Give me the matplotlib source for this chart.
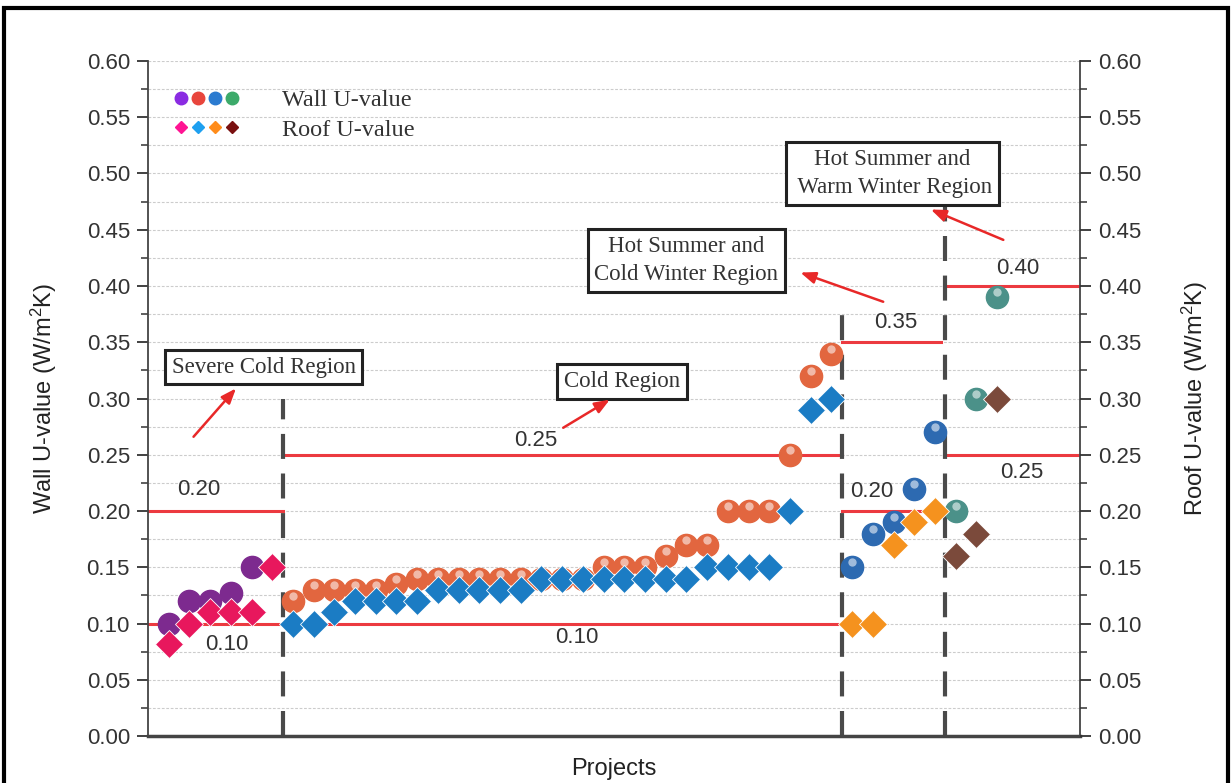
import matplotlib
matplotlib.use("Agg")
import matplotlib.pyplot as plt
from matplotlib.lines import Line2D
from matplotlib.legend_handler import HandlerTuple
from matplotlib.patches import Rectangle
from matplotlib.transforms import ScaledTranslation
from matplotlib.ticker import MultipleLocator
import numpy as np

plt.rcParams['font.family'] = ['Liberation Sans', 'DejaVu Sans']
plt.rcParams['mathtext.fontset'] = 'custom'
plt.rcParams['mathtext.rm'] = 'Liberation Sans'
plt.rcParams['mathtext.it'] = 'Liberation Sans:italic'

# severe cold region
sc_wall_x = [0, 1, 2, 3, 4]
sc_wall = [0.10, 0.12, 0.12, 0.127, 0.15]
sc_roof_x = [0, 1, 2, 3, 4, 5]
sc_roof = [0.082, 0.10, 0.11, 0.11, 0.11, 0.15]

# cold region
c_x = list(range(6, 33))
c_wall = [0.12, 0.13, 0.13, 0.13, 0.13, 0.135, 0.14, 0.14, 0.14, 0.14,
          0.14, 0.14, 0.14, 0.14, 0.14, 0.15, 0.15, 0.15, 0.16, 0.17,
          0.17, 0.20, 0.20, 0.20, 0.25, 0.32, 0.34]
c_roof = [0.10, 0.10, 0.11, 0.12, 0.12, 0.12, 0.12, 0.13, 0.13, 0.13,
          0.13, 0.13, 0.14, 0.14, 0.14, 0.14, 0.14, 0.14, 0.14, 0.14,
          0.15, 0.15, 0.15, 0.15, 0.20, 0.29, 0.30]

# hot summer and cold winter region
hscw_x = [33, 34, 35, 36, 37]
hscw_wall = [0.15, 0.18, 0.19, 0.22, 0.27]
hscw_roof = [0.10, 0.10, 0.17, 0.19, 0.20]

# hot summer and warm winter region
hsww_x = [38, 39, 40]
hsww_wall = [0.20, 0.30, 0.39]
hsww_roof = [0.16, 0.18, 0.30]

# code limits: (value, x start, x end, label x, label y)
limits = [
    (0.20, -1, 5.5, 1.45, 0.219),
    (0.10, -1, 32.5, 2.8, 0.081),
    (0.25, 5.5, 32.5, 17.7, 0.263),
    (0.35, 32.5, 37.3, 35.1, 0.368),
    (0.20, 32.5, 37.5, 33.95, 0.217),
    (0.40, 37.65, 44, 41.0, 0.416),
    (0.25, 37.5, 44, 41.2, 0.234),
]
extra_labels = [("0.10", 19.7, 0.088)]

dividers = [(5.5, 0.30), (32.5, 0.385), (37.5, 0.47)]

regions = [
    ("Severe Cold Region", 4.58, 0.328, (1.2, 0.266), (3.25, 0.309)),
    ("Cold Region", 21.9, 0.315, (19.05, 0.274), (21.3, 0.299)),
    ("Hot Summer and\nCold Winter Region", 25.0, 0.423, (34.5, 0.386), (30.5, 0.412)),
    ("Hot Summer and\n Warm Winter Region", 34.95, 0.50, (40.3, 0.441), (36.8, 0.468)),
]

fig = plt.figure(figsize=(12.31, 7.83), dpi=100)
ax = fig.add_axes([0.1202, 0.0600, 0.7571, 0.8621])

ax.set_xlim(-1, 44)
ax.set_ylim(0, 0.6)
ax.yaxis.set_major_locator(MultipleLocator(0.05))
ax.yaxis.set_minor_locator(MultipleLocator(0.025))
ax.grid(True, which='both', axis='y', color='#cccccc', ls=(0, (2.5, 1.5)), lw=0.8)
ax.set_axisbelow(True)

ax.set_xticks([5.5, 32.5, 37.5])
ax.set_xticklabels([])
ax.tick_params(axis='x', direction='in', length=10, width=1.5, color='#444')
ax.tick_params(axis='y', which='major', length=8, width=1.3, labelsize=16,
               colors='#333', pad=5)
ax.tick_params(axis='y', which='minor', length=5, width=1.1, color='#333')
ax.yaxis.set_major_formatter(plt.FuncFormatter(lambda v, p: f"{v:.2f}"))

for s in ['left', 'right']:
    ax.spines[s].set_color('#444')
    ax.spines[s].set_linewidth(1.3)
ax.spines['bottom'].set_color('#444')
ax.spines['bottom'].set_linewidth(2.5)
ax.spines['top'].set_visible(False)

ax2 = ax.twinx()
ax2.set_ylim(0, 0.6)
ax2.yaxis.set_major_locator(MultipleLocator(0.05))
ax2.yaxis.set_minor_locator(MultipleLocator(0.025))
ax2.yaxis.set_major_formatter(plt.FuncFormatter(lambda v, p: f"{v:.2f}"))
ax2.tick_params(axis='y', which='major', length=8, width=1.3, labelsize=16,
                colors='#333', pad=5)
ax2.tick_params(axis='y', which='minor', length=5, width=1.1, color='#333')
for s in ax2.spines.values():
    s.set_visible(False)

ax.set_ylabel("Wall U-value (W/m$^2$K)", fontsize=17, color='#222', labelpad=20)
ax2.set_ylabel("Roof U-value (W/m$^2$K)", fontsize=17, color='#222', labelpad=28)
ax.set_xlabel("Projects", fontsize=17, color='#222', labelpad=12)

# limit lines
for v, x0, x1, lx, ly in limits:
    ax.plot([x0, x1], [v, v], color='#ec3a40', lw=2.2, zorder=2)
    ax.text(lx, ly, f"{v:.2f}", fontsize=16, color='#333', ha='center', va='center')
for t, lx, ly in extra_labels:
    ax.text(lx, ly, t, fontsize=16, color='#333', ha='center', va='center')

# region dividers
for xd, top in dividers:
    ax.plot([xd, xd], [0, top], color='#4a4a4a', lw=3, ls=(0, (6, 3.5)), zorder=2)

# points
ms_c = 16
ms_d = 14
hl = ax.transData + ScaledTranslation(0, 3.5 / 72, fig.dpi_scale_trans)


def balls(x, y, color, shine=True):
    ax.plot(x, y, ls='', marker='o', ms=ms_c, color=color, mec=color, zorder=4)
    if shine:
        ax.plot(x, y, ls='', marker='o', ms=6, color='white', alpha=0.55,
                mew=0, transform=hl, zorder=4.5)


def diamonds(x, y, color):
    ax.plot(x, y, ls='', marker='D', ms=ms_d, color=color, mec='white',
            mew=0.6, zorder=5)


balls(sc_wall_x, sc_wall, '#7d2a8f', shine=False)
diamonds(sc_roof_x, sc_roof, '#e8175d')
balls(c_x, c_wall, '#e2663f')
diamonds(c_x, c_roof, '#1b7cc4')
balls(hscw_x, hscw_wall, '#2d6ab1')
diamonds(hscw_x, hscw_roof, '#f5921e')
balls(hsww_x, hsww_wall, '#4b9189')
diamonds(hsww_x, hsww_roof, '#7b4a3b')

# region boxes with arrows
for txt, bx, by, tail, head in regions:
    ax.text(bx, by, txt, family=['Liberation Serif'], fontsize=16.5, color='#333',
            ha='center', va='center', linespacing=1.45, zorder=6,
            bbox=dict(boxstyle='square,pad=0.3', fc='white', ec='#222', lw=2.2))
    ax.annotate('', xy=head, xytext=tail, zorder=6,
                arrowprops=dict(arrowstyle='-|>,head_length=0.9,head_width=0.35',
                                color='#e82828', lw=1.8, shrinkA=0, shrinkB=0))

# legend
wall_cols = ['#8a2be2', '#e8453c', '#2b7bd0', '#3caa6a']
roof_cols = ['#ff1493', '#1ea0f0', '#ff8c1a', '#7a1010']
wall_h = tuple(Line2D([], [], ls='', marker='o', ms=9, color=c) for c in wall_cols)
roof_h = tuple(Line2D([], [], ls='', marker='D', ms=6.5, color=c) for c in roof_cols)
ax.legend([wall_h, roof_h], ['Wall U-value', 'Roof U-value'],
          handler_map={tuple: HandlerTuple(ndivide=None, pad=0.1)},
          loc='upper left', bbox_to_anchor=(0.028, 0.958), frameon=False,
          prop={'family': 'Liberation Serif', 'size': 17.5}, handlelength=2.7,
          handletextpad=1.75, labelspacing=0.3, borderpad=0, borderaxespad=0,
          labelcolor='#333')

# outer frame
fig.patches.append(Rectangle((0.0035, -0.05), 0.994, 1.04, transform=fig.transFigure,
                             fill=False, ec='black', lw=3))

fig.savefig("out.png", dpi=100)
